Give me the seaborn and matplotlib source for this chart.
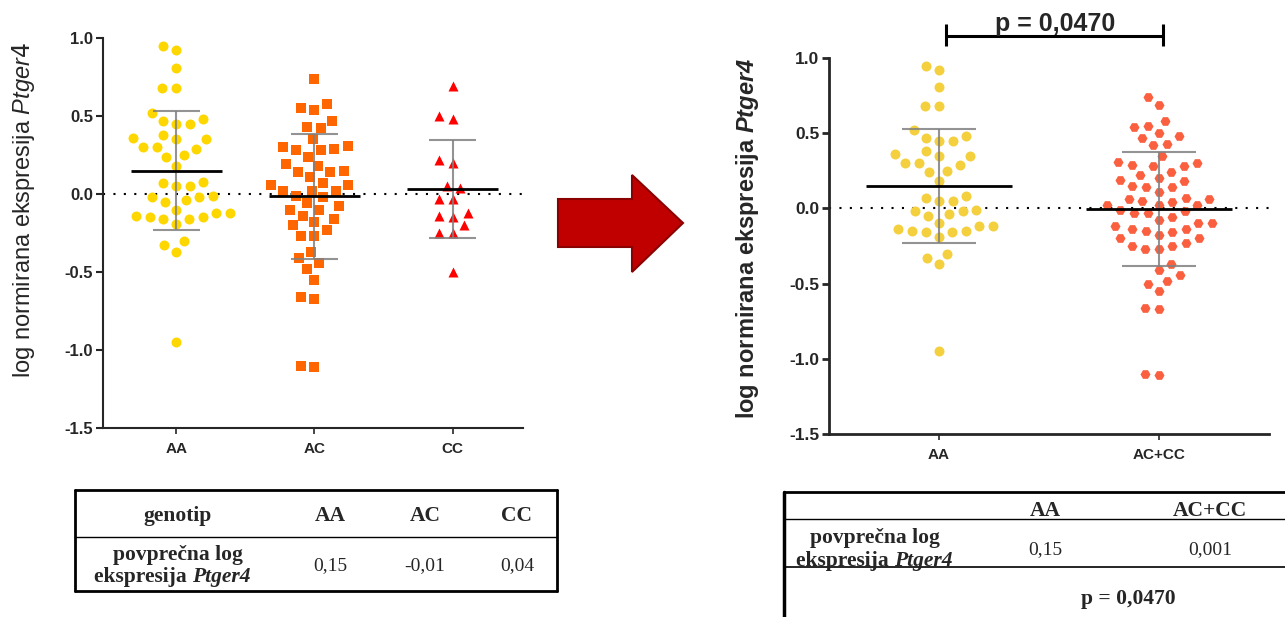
"""
Ptger4 expression by genotype: AA/AC/CC swarm, then AA vs AC+CC swarm.
"""

import numpy as np
import pandas as pd
import matplotlib

matplotlib.use("Agg")
import matplotlib.pyplot as plt
import matplotlib.transforms as mtransforms
from matplotlib.patches import Polygon
from matplotlib.lines import Line2D
import seaborn as sns

# Data (log normalised expression)
aa_vals = [
    0.95, 0.92, 0.81, 0.68, 0.68,
    0.52, 0.45, 0.47, 0.45, 0.48,
    0.38, 0.35, 0.35, 0.36,
    0.30, 0.29, 0.30, 0.24, 0.25, 0.18,
    0.07, 0.05, 0.05, 0.08,
    -0.02, -0.04, -0.05, -0.02, -0.01,
    -0.10, -0.12, -0.15, -0.16, -0.19, -0.16, -0.15, -0.14, -0.12,
    -0.33, -0.30, -0.37, -0.95,
]
ac_vals = [
    0.74, 0.54, 0.58, 0.55, 0.43, 0.47, 0.42, 0.35,
    0.31, 0.29, 0.28, 0.24, 0.28, 0.30,
    0.19, 0.18, 0.14, 0.15, 0.14, 0.11,
    0.06, 0.06, 0.07, 0.02, 0.02, 0.02,
    -0.01, -0.02, -0.06, -0.10, -0.10, -0.08,
    -0.14, -0.16, -0.18, -0.23, -0.20, -0.27, -0.27,
    -0.37, -0.41, -0.44, -0.48, -0.55, -0.66, -0.67,
    -1.11, -1.10,
]
cc_vals = [
    0.69, 0.50, 0.48, 0.20, 0.22, 0.05, 0.04,
    -0.03, -0.03, -0.12, -0.15, -0.14, -0.20, -0.25, -0.25, -0.50,
]

left_groups = ["AA", "AC", "CC"]
right_groups = ["AA", "AC+CC"]
y_ticks = [-1.5, -1.0, -0.5, 0.0, 0.5, 1.0]

left_table_header = ["genotip", "AA", "AC", "CC"]
left_table_means = ["0,15", "-0,01", "0,04"]
right_table_header = ["AA", "AC+CC"]
right_table_means = ["0,15", "0,001"]
p_label = "p = 0,0470"

# Figure settings
W, H = 1285, 617
SANS = "Liberation Sans"
SERIF = "Liberation Serif"
SWARM_SIZE = 9.5   # spacing used to lay out the swarm
MARKER_SIZE = 7.2  # size the markers are finally drawn at

sns.set_style("ticks")
plt.rcParams["font.family"] = SANS
plt.rcParams["mathtext.fontset"] = "custom"
plt.rcParams["mathtext.it"] = f"{SANS}:italic"
plt.rcParams["mathtext.bfit"] = f"{SANS}:italic:bold"


def draw_panel(ax, df, groups, colors, markers, spine_lw, tick_fs, ylabel,
               label_weight):
    for g in groups:
        sns.swarmplot(
            data=df[df["group"] == g], x="group", y="value", order=groups,
            color=colors[g], marker=markers[g], size=SWARM_SIZE, linewidth=0,
            ax=ax, zorder=2,
        )

    # mean and SD
    stats = df.groupby("group")["value"].agg(["mean", "std"]).reindex(groups)
    for i, g in enumerate(groups):
        m, sd = stats.loc[g, "mean"], stats.loc[g, "std"]
        ax.vlines(i, m - sd, m + sd, color="#808080", lw=1.5, alpha=0.85, zorder=3)
        ax.hlines([m - sd, m + sd], i - 0.17, i + 0.17, color="#808080", lw=1.5,
                  alpha=0.85, zorder=3)
        ax.hlines(m, i - 0.33, i + 0.33, color="black", lw=2, zorder=4)

    ax.axhline(0, color="black", ls=(0, (1, 4)), lw=1.5, zorder=1)

    ax.set_ylim(-1.5, 1.0)
    ax.set_yticks(y_ticks)
    ax.set_yticklabels([f"{v:.1f}" for v in y_ticks], fontsize=tick_fs,
                       fontweight="bold")
    ax.set_xticks(range(len(groups)))
    ax.set_xticklabels(groups, fontsize=11, fontweight="bold")
    ax.set_xlabel("")
    ax.set_ylabel("")
    sns.despine(ax=ax)
    for side in ["left", "bottom"]:
        ax.spines[side].set_linewidth(spine_lw)
    ax.tick_params(axis="y", length=5, width=spine_lw, pad=2)
    ax.tick_params(axis="x", length=4, width=1.2, pad=6)
    ax.text(ylabel[0], ylabel[1], ylabel[2], rotation=90, ha="center",
            va="center", transform=ax.transAxes, fontsize=17,
            fontweight=label_weight)


fig = plt.figure(figsize=(W / 100, H / 100), dpi=100)
px = mtransforms.Affine2D().scale(1 / W, -1 / H).translate(0, 1) + fig.transFigure

# Left panel
left_df = pd.DataFrame({
    "group": ["AA"] * len(aa_vals) + ["AC"] * len(ac_vals) + ["CC"] * len(cc_vals),
    "value": aa_vals + ac_vals + cc_vals,
})
ax1 = fig.add_axes([103 / W, 1 - 428 / H, 420 / W, 390 / H])
draw_panel(
    ax1, left_df, left_groups,
    colors={"AA": "#FFD700", "AC": "#FF6600", "CC": "#FF0000"},
    markers={"AA": "o", "AC": "s", "CC": "^"},
    spine_lw=1.5, tick_fs=12,
    ylabel=(-0.19, 0.56, r"log normirana ekspresija $\mathit{Ptger4}$"),
    label_weight="normal",
)
ax1.set_xlim(-0.53, 2.51)

# Right panel
right_df = pd.DataFrame({
    "group": ["AA"] * len(aa_vals) + ["AC+CC"] * (len(ac_vals) + len(cc_vals)),
    "value": aa_vals + ac_vals + cc_vals,
})
ax2 = fig.add_axes([829 / W, 1 - 434 / H, 440 / W, 376 / H])
draw_panel(
    ax2, right_df, right_groups,
    colors={"AA": "#F4D03F", "AC+CC": "#FA6040"},
    markers={"AA": "o", "AC+CC": "H"},
    spine_lw=2, tick_fs=12.5,
    ylabel=(-0.186, 0.52, r"log normirana ekspresija $\mathbfit{Ptger4}$"),
    label_weight="bold",
)
ax2.set_xlim(-0.5, 1.5)

# lay the swarms out with generous spacing, then shrink the markers
fig.canvas.draw()
for ax in (ax1, ax2):
    for coll in ax.collections:
        if "draw" in coll.__dict__ and len(coll.get_offsets()):
            del coll.draw
            coll.set_sizes([MARKER_SIZE ** 2])

# significance bracket
ax2.plot([0.03, 1.02], [1.147, 1.147], color="black", lw=2.2, clip_on=False)
ax2.vlines([0.03, 1.02], 1.08, 1.227, color="black", lw=2.2, clip_on=False)
ax2.text(0.53, 1.225, p_label, ha="center", va="center", fontsize=18,
         fontweight="bold", clip_on=False)

# arrow between panels
arrow = Polygon(
    [(558, 199), (632, 199), (632, 175), (683, 223), (632, 272), (632, 247),
     (558, 247)],
    closed=True, facecolor="#C00000", edgecolor="#8B0000", lw=1.5, transform=px,
)
fig.add_artist(arrow)


def hline(y, x0, x1, lw):
    fig.add_artist(Line2D([x0, x1], [y, y], color="black", lw=lw, transform=px))


def vline(x, y0, y1, lw):
    fig.add_artist(Line2D([x, x], [y0, y1], color="black", lw=lw, transform=px))


def label(x, y, s, weight="bold", style="normal", ha="center", size=15.5):
    fig.text(x, y, s, transform=px, ha=ha, va="center", fontsize=size,
             fontweight=weight, fontstyle=style, family=SERIF)


# Left table
hline(490, 75, 557, 2)
hline(591, 75, 557, 2)
vline(75, 490, 591, 2)
vline(557, 490, 591, 2)
hline(537, 75, 557, 1)
for x, s in zip([178, 330, 425, 517], left_table_header):
    label(x, 516, s)
label(178, 555, "povprečna log")
label(192, 577, "ekspresija ", ha="right")
label(192, 577, "Ptger4", style="italic", ha="left")
for x, s in zip([330, 425, 517], left_table_means):
    label(x, 566, s, weight="normal", size=14)

# Right table
hline(492, 784, 1285, 2)
vline(784, 492, 617, 2.5)
hline(519, 784, 1285, 1)
hline(567, 784, 1285, 1.2)
for x, s in zip([1045, 1210], right_table_header):
    label(x, 511, s)
label(875, 538, "povprečna log")
label(894, 561, "ekspresija ", ha="right")
label(894, 561, "Ptger4", style="italic", ha="left")
for x, s in zip([1045, 1210], right_table_means):
    label(x, 550, s, weight="normal", size=14)
label(1128, 599, p_label)

fig.savefig("out.png", dpi=100)
